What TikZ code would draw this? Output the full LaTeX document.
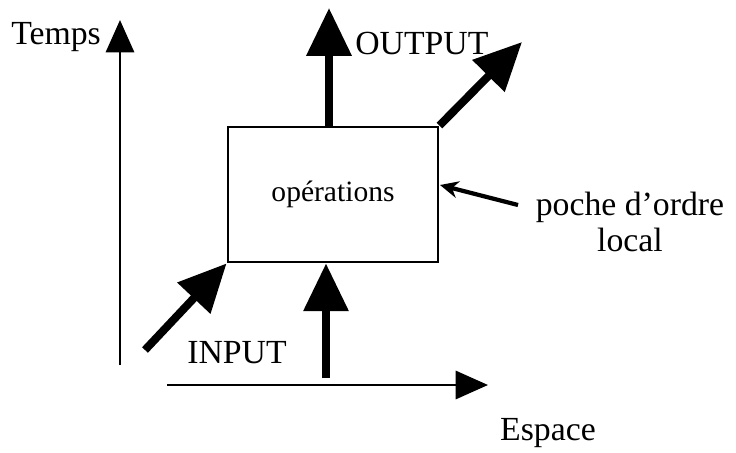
\documentclass[tikz,border=0pt]{standalone}
\usepackage{fontspec}
\setmainfont{Liberation Serif}
\usetikzlibrary{arrows.meta,calc}

\begin{document}
\begin{tikzpicture}[x=0.025cm,y=-0.025cm,
        font=\fontsize{24}{25}\selectfont,
        axis/.style={line width=2pt,-{Triangle[length=23pt,width=20pt]}},
        flow/.style={line width=5.7pt,-{Triangle[length=34pt,width=31pt]}},
        pointer/.style={line width=3pt,-{Stealth[length=13pt,width=12pt]}}]
        \useasboundingbox (0,0) rectangle (736,453);
        % la poche et les textes
        \node[draw,line width=2pt,minimum width=5.25cm,minimum height=3.375cm,inner sep=0pt] (ops) at (333,194.5) {\fontsize{21}{25}\selectfont op\'erations};
        \node[anchor=west,inner sep=0pt] (temps) at (11,37) {Temps};
        \node (espace) at (548,433) {Espace};
        \node[anchor=west,inner sep=0pt] (output) at (355,43) {OUTPUT};
        \node (input) at (237,353) {INPUT};
        \node[align=center] (poche) at (630,222) {poche d'ordre\\local};
        % axes
        \coordinate (t0) at (120,365);
        \coordinate (t1) at (120,20);
        \coordinate (e0) at (167,385);
        \coordinate (e1) at (488,385);
        \draw[axis] (t0) -- (t1);
        \draw[axis] (e0) -- (e1);
        % flux
        \coordinate (outtip) at (329,8);
        \coordinate (diagtip) at (522,42);
        \coordinate (intail) at (145,350);
        \coordinate (inbase) at (326,378);
        \draw[flow] (outtip |- ops.north) -- (outtip);
        \draw[flow] (ops.north east) -- (diagtip);
        \draw[flow] (intail) -- (ops.south west);
        \draw[flow] (inbase) -- (inbase |- ops.south);
        \coordinate (ptail) at (518,205);
        \coordinate (ptip) at (440,185);
        \draw[pointer] (ptail) -- (ptip);
\end{tikzpicture}
\end{document}
